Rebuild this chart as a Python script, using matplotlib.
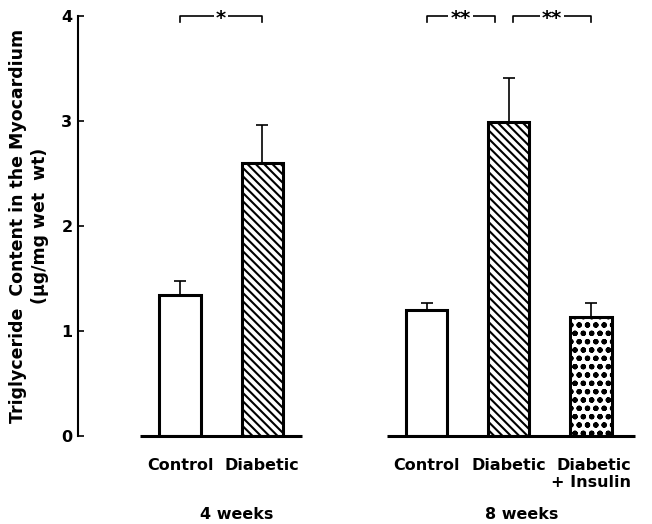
import matplotlib.pyplot as plt
import numpy as np

# Triglyceride content in the myocardium (ug/mg wet wt), mean + SE
groups = ["4 weeks", "8 weeks"]
labels4 = ["Control", "Diabetic"]
labels8 = ["Control", "Diabetic", "Diabetic\n+ Insulin"]
mean4 = [1.34, 2.60]
err4 = [0.14, 0.36]
mean8 = [1.20, 2.99, 1.13]
err8 = [0.07, 0.42, 0.14]
yticks = [0, 1, 2, 3, 4]

plt.rcParams["font.family"] = "DejaVu Sans"
plt.rcParams["hatch.linewidth"] = 1.5

fig = plt.figure(figsize=(6.52, 5.24), dpi=100)
ax = fig.add_axes([78 / 652, 88 / 524, (640 - 78) / 652, 420 / 524])

# bar slots: second group starts after one empty slot
pos4 = np.arange(len(mean4))
pos8 = np.arange(len(mean8)) + len(mean4) + 1
width = 0.5

bars4 = ax.bar(pos4, mean4, width, color="white", edgecolor="black",
               linewidth=2.2, zorder=2)
bars8 = ax.bar(pos8, mean8, width, color="white", edgecolor="black",
               linewidth=2.2, zorder=2)
bars4[1].set_hatch("\\\\\\\\")
bars8[1].set_hatch("\\\\\\\\")
bars8[2].set_hatch("oo..")

# upper error bars only
ax.errorbar(pos4, mean4, yerr=[np.zeros(len(err4)), err4], fmt="none",
            ecolor="black", elinewidth=1.2, capsize=4.5, capthick=1.2,
            zorder=1)
ax.errorbar(pos8, mean8, yerr=[np.zeros(len(err8)), err8], fmt="none",
            ecolor="black", elinewidth=1.2, capsize=4.5, capthick=1.2,
            zorder=1)

# baselines under each group
ax.hlines(0, pos4[0] - 0.49, pos4[-1] + 0.48, color="black", linewidth=2.2,
          clip_on=False, zorder=3)
ax.hlines(0, pos8[0] - 0.48, pos8[-1] + 0.54, color="black", linewidth=2.2,
          clip_on=False, zorder=3)

ax.set_xlim(-1.241, 5.596)
ax.set_ylim(0, 4)
for s in ["top", "right", "bottom"]:
    ax.spines[s].set_visible(False)
ax.spines["left"].set_linewidth(1.5)
ax.set_xticks([])
ax.set_yticks(yticks)
ax.set_yticklabels([str(t) for t in yticks], fontsize=11.5, fontweight="bold")
ax.tick_params(axis="y", direction="in", length=4, width=1.2, pad=4)

# category labels
tr = ax.get_xaxis_transform()
for p, lab in zip(list(pos4) + list(pos8), labels4 + labels8):
    ax.text(p, -0.052, lab, transform=tr, ha="center", va="top",
            fontsize=11.5, fontweight="bold", multialignment="right")
ax.text(0.69, -0.168, groups[0], transform=tr, ha="center", va="top",
        fontsize=11.5, fontweight="bold")
ax.text(4.16, -0.168, groups[1], transform=tr, ha="center", va="top",
        fontsize=11.5, fontweight="bold")

ax.set_ylabel("Triglyceride  Content in the Myocardium\n(\u00b5g/mg wet  wt)",
              fontsize=12.5, fontweight="bold", labelpad=9, linespacing=1.3)


# significance brackets
def bracket(x0, x1, label):
    y, drop = 4.0, 0.055
    ax.plot([x0, x0, x1, x1], [y - drop, y, y, y - drop], color="black",
            linewidth=1.2, clip_on=False)
    ax.text((x0 + x1) / 2, y - 0.02, label, ha="center", va="center",
            fontsize=14, fontweight="bold",
            bbox=dict(facecolor="white", edgecolor="none", pad=1.5))


bracket(0, 1, "*")
bracket(3, 3.83, "**")
bracket(4.05, 5, "**")

plt.savefig("out.png", dpi=100)
